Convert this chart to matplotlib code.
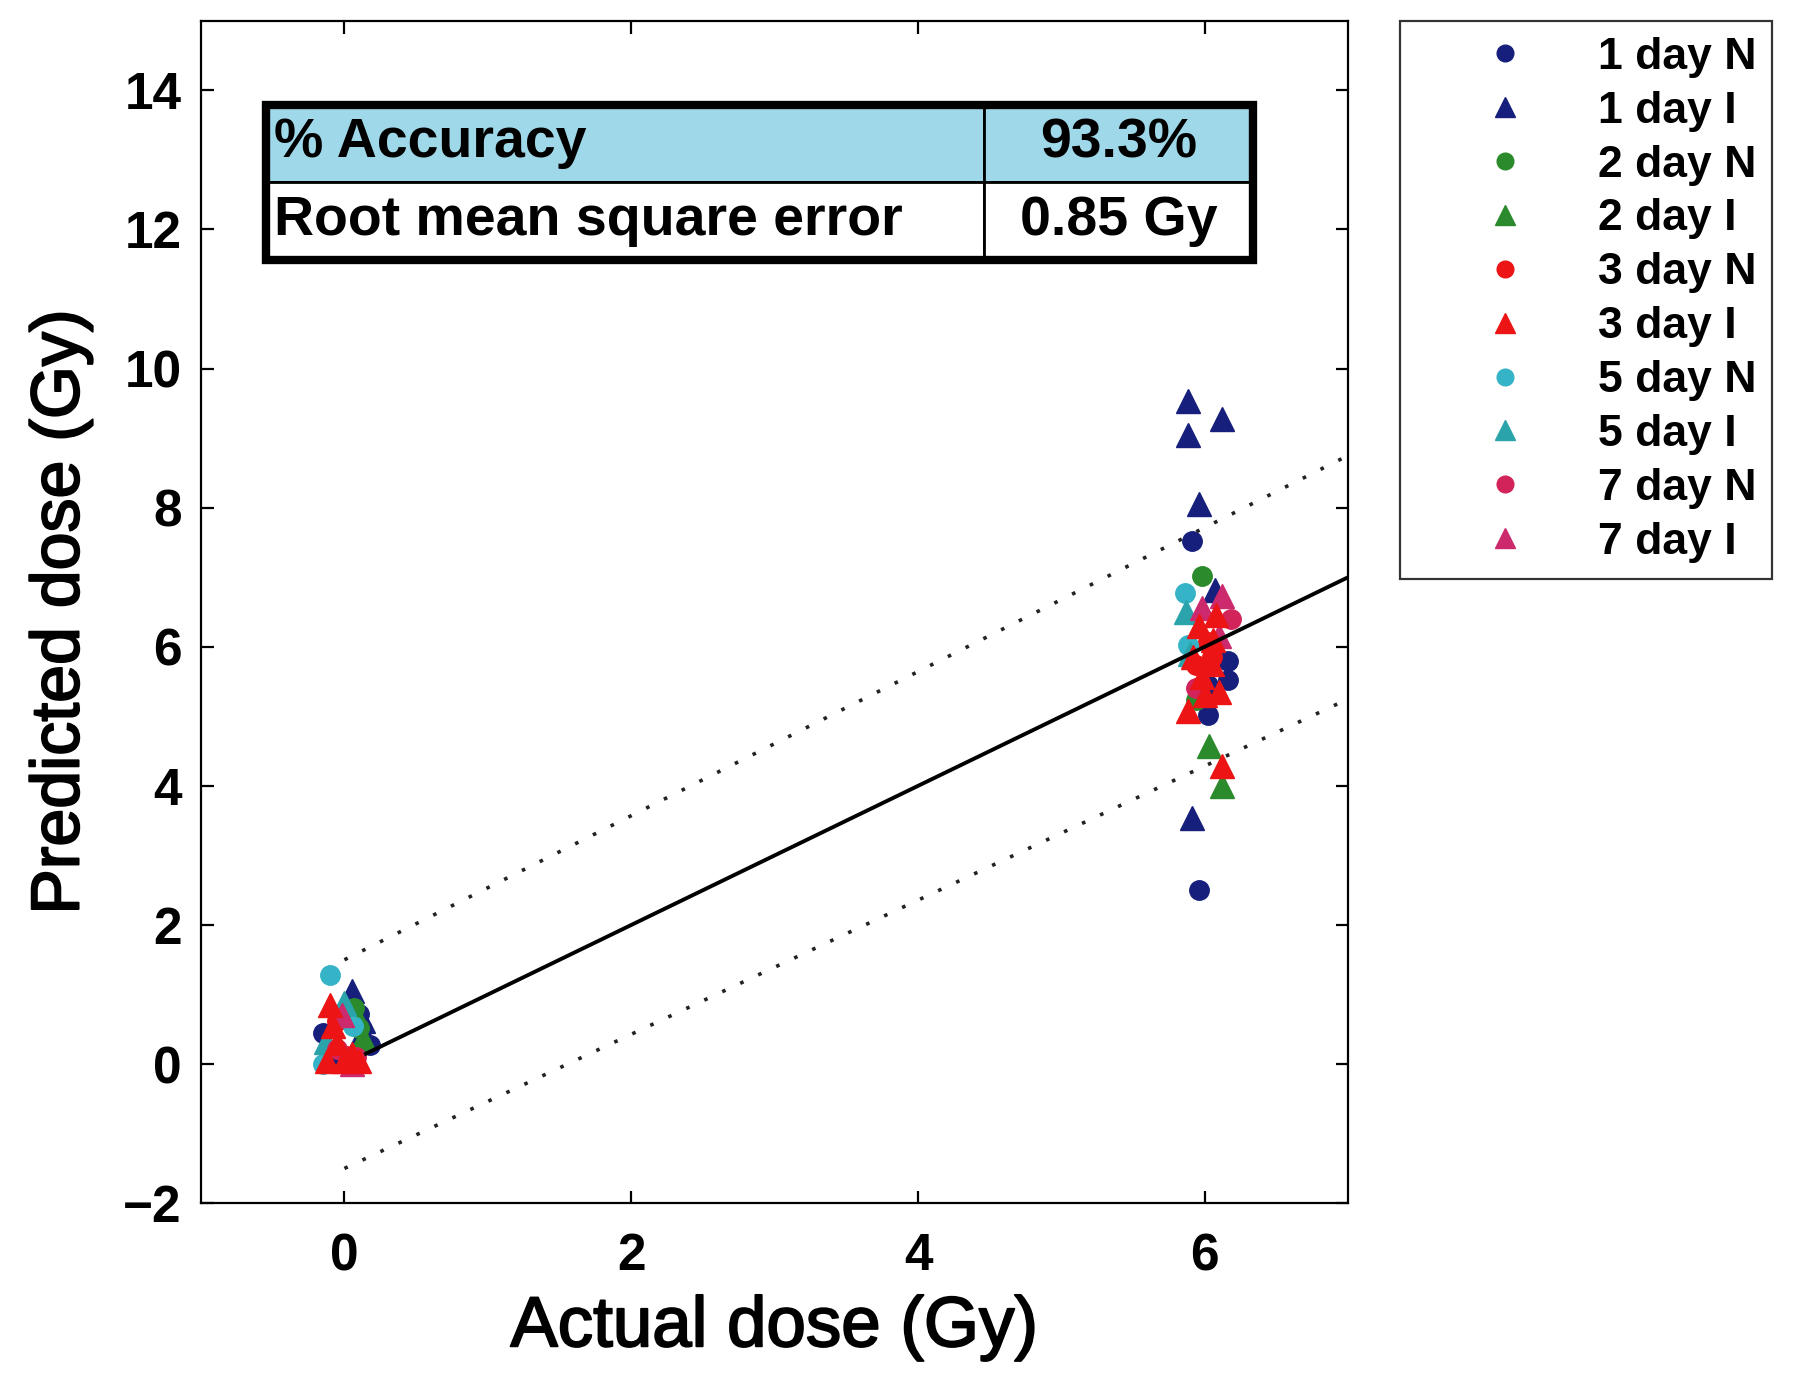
import matplotlib
matplotlib.use("Agg")
import matplotlib.pyplot as plt
import matplotlib.patheffects as pe
from matplotlib.lines import Line2D
from matplotlib.patches import Rectangle

plt.rcParams['font.family'] = ['Liberation Sans', 'DejaVu Sans']

# ---------------- data ----------------
labels = ["1 day N", "1 day I", "2 day N", "2 day I", "3 day N",
          "3 day I", "5 day N", "5 day I", "7 day N", "7 day I"]
colors = ["#16207c", "#16207c", "#2b8a2b", "#2b8a2b", "#ec1414",
          "#ec1414", "#34b4c6", "#2aa3aa", "#d2245a", "#cc2a6c"]
markers = ["o", "^", "o", "^", "o", "^", "o", "^", "o", "^"]

x_1dN = [0.12, 0.18, -0.15, 0.10, 5.91, 5.96, 6.02, 6.16, 6.16, 6.02]
y_1dN = [0.50, 0.28, 0.45, 0.72, 7.52, 2.51, 5.02, 5.79, 5.52, 5.45]
x_1dI = [0.05, 0.13, -0.12, 0.10, 5.88, 5.88, 6.12, 5.96, 5.91, 6.07]
y_1dI = [1.05, 0.62, 0.18, 0.35, 9.54, 9.04, 9.27, 8.05, 3.54, 6.81]
x_2dN = [0.07, 0.10, 5.98, 5.94]
y_2dN = [0.80, 0.52, 7.02, 5.24]
x_2dI = [0.09, 0.13, 6.03, 6.12]
y_2dI = [0.68, 0.38, 4.58, 4.00]
x_3dN = [-0.05, 0.02, 6.02, 5.94, 6.05]
y_3dN = [0.62, 0.12, 6.07, 5.74, 5.85]
x_3dI = [-0.10, -0.08, -0.05, 0.00, 0.10, -0.12, 0.05,
         5.88, 6.12, 5.98, 6.05, 6.08, 5.96, 6.00, 6.10, 5.92, 6.06]
y_3dI = [0.85, 0.55, 0.30, 0.05, 0.05, 0.05, 0.15,
         5.07, 4.28, 5.57, 5.75, 6.45, 6.30, 5.30, 5.35, 5.85, 6.10]
x_5dN = [-0.10, -0.15, 0.06, 5.86, 5.88]
y_5dN = [1.28, 0.00, 0.55, 6.78, 6.03]
x_5dI = [-0.13, 0.00, 5.90, 5.87]
y_5dI = [0.32, 0.88, 5.90, 6.50]
x_7dN = [-0.05, 0.08, 6.18, 5.94]
y_7dN = [0.22, 0.10, 6.40, 5.40]
x_7dI = [-0.02, 0.05, 6.12, 6.10, 5.98]
y_7dI = [0.70, 0.00, 6.73, 6.15, 6.56]

series_x = [x_1dN, x_1dI, x_2dN, x_2dI, x_3dN, x_3dI, x_5dN, x_5dI, x_7dN, x_7dI]
series_y = [y_1dN, y_1dI, y_2dN, y_2dI, y_3dN, y_3dI, y_5dN, y_5dI, y_7dN, y_7dI]

fit_x = [0.15, 7.0]
fit_y = [0.15, 7.0]
band_x = [0.0, 7.0]
upper_y = [1.5, 8.75]
lower_y = [-1.5, 5.25]

table_rows = [["% Accuracy", "93.3%"], ["Root mean square error", "0.85 Gy"]]

# ---------------- figure ----------------
fig = plt.figure(figsize=(18, 13.83), dpi=100)
ax = fig.add_axes([0.1117, 0.130, 0.6373, 0.855])

for i, (xs, ys, c, m) in enumerate(zip(series_x, series_y, colors, markers)):
    ms = 17 if m == "^" else 14
    z = 3.5 if labels[i] == "3 day I" else 3
    ax.plot(xs, ys, linestyle="none", marker=m, color=c, markeredgecolor=c,
            markersize=ms, zorder=z)

ax.plot(fit_x, fit_y, color="black", lw=2.8, zorder=4)
ax.plot(band_x, upper_y, color="#222222", lw=2.6, linestyle=(0, (1, 4.5)), zorder=2)
ax.plot(band_x, lower_y, color="#222222", lw=2.6, linestyle=(0, (1, 4.5)), zorder=2)

ax.set_xlim(-1, 7)
ax.set_ylim(-2, 15)
ax.set_xticks([0, 2, 4, 6])
ax.set_yticks([-2, 0, 2, 4, 6, 8, 10, 12, 14])
ax.set_yticklabels(["\u22122", "0", "2", "4", "6", "8", "10", "12", "14"])
ax.tick_params(direction="in", length=9, width=1.6, top=True, right=True,
               labelsize=37)
ax.tick_params(axis="y", pad=14)
ax.tick_params(axis="x", pad=21)
for lab in ax.get_xticklabels() + ax.get_yticklabels():
    lab.set_fontweight("bold")
for s in ax.spines.values():
    s.set_linewidth(1.6)

thick = [pe.withStroke(linewidth=1.4, foreground="black")]
xl = ax.set_xlabel("Actual dose (Gy)", fontsize=51, labelpad=10)
yl = ax.set_ylabel("Predicted dose (Gy)", fontsize=49, labelpad=22)
xl.set_path_effects(thick)
yl.set_path_effects(thick)

# table
x0, y0, w, h = 0.057, 0.798, 0.860, 0.131
tbl = ax.table(cellText=table_rows, colWidths=[0.727, 0.273],
               cellColours=[["#9fd8e8", "#9fd8e8"], ["white", "white"]],
               bbox=[x0, y0, w, h], zorder=5)
tbl.auto_set_font_size(False)
for (r, c), cell in tbl.get_celld().items():
    cell.set_linewidth(2.0)
    cell.set_edgecolor("black")
    cell.get_text().set_fontsize(40)
    cell.get_text().set_fontweight("bold")
    if c == 0:
        cell.get_text().set_horizontalalignment("left")
        cell.PAD = 0.01
    else:
        cell.get_text().set_horizontalalignment("center")
ax.add_patch(Rectangle((x0, y0), w, h, transform=ax.transAxes, fill=False,
                       lw=6, edgecolor="black", zorder=6, clip_on=False))

# legend
handles = [Line2D([], [], linestyle="none", marker=m, color=c, markeredgecolor=c,
                  markersize=(15 if m == "^" else 12))
           for c, m in zip(colors, markers)]
leg = fig.legend(handles, labels, loc="upper left", bbox_to_anchor=(0.778, 0.985),
                 frameon=True, fancybox=False, edgecolor="black",
                 handlelength=4.0, handletextpad=0.08, labelspacing=0.29,
                 borderpad=0.36, borderaxespad=0.0,
                 prop={"weight": "bold", "size": 32})
leg.get_frame().set_linewidth(1.6)

fig.savefig("out.png", dpi=100)
